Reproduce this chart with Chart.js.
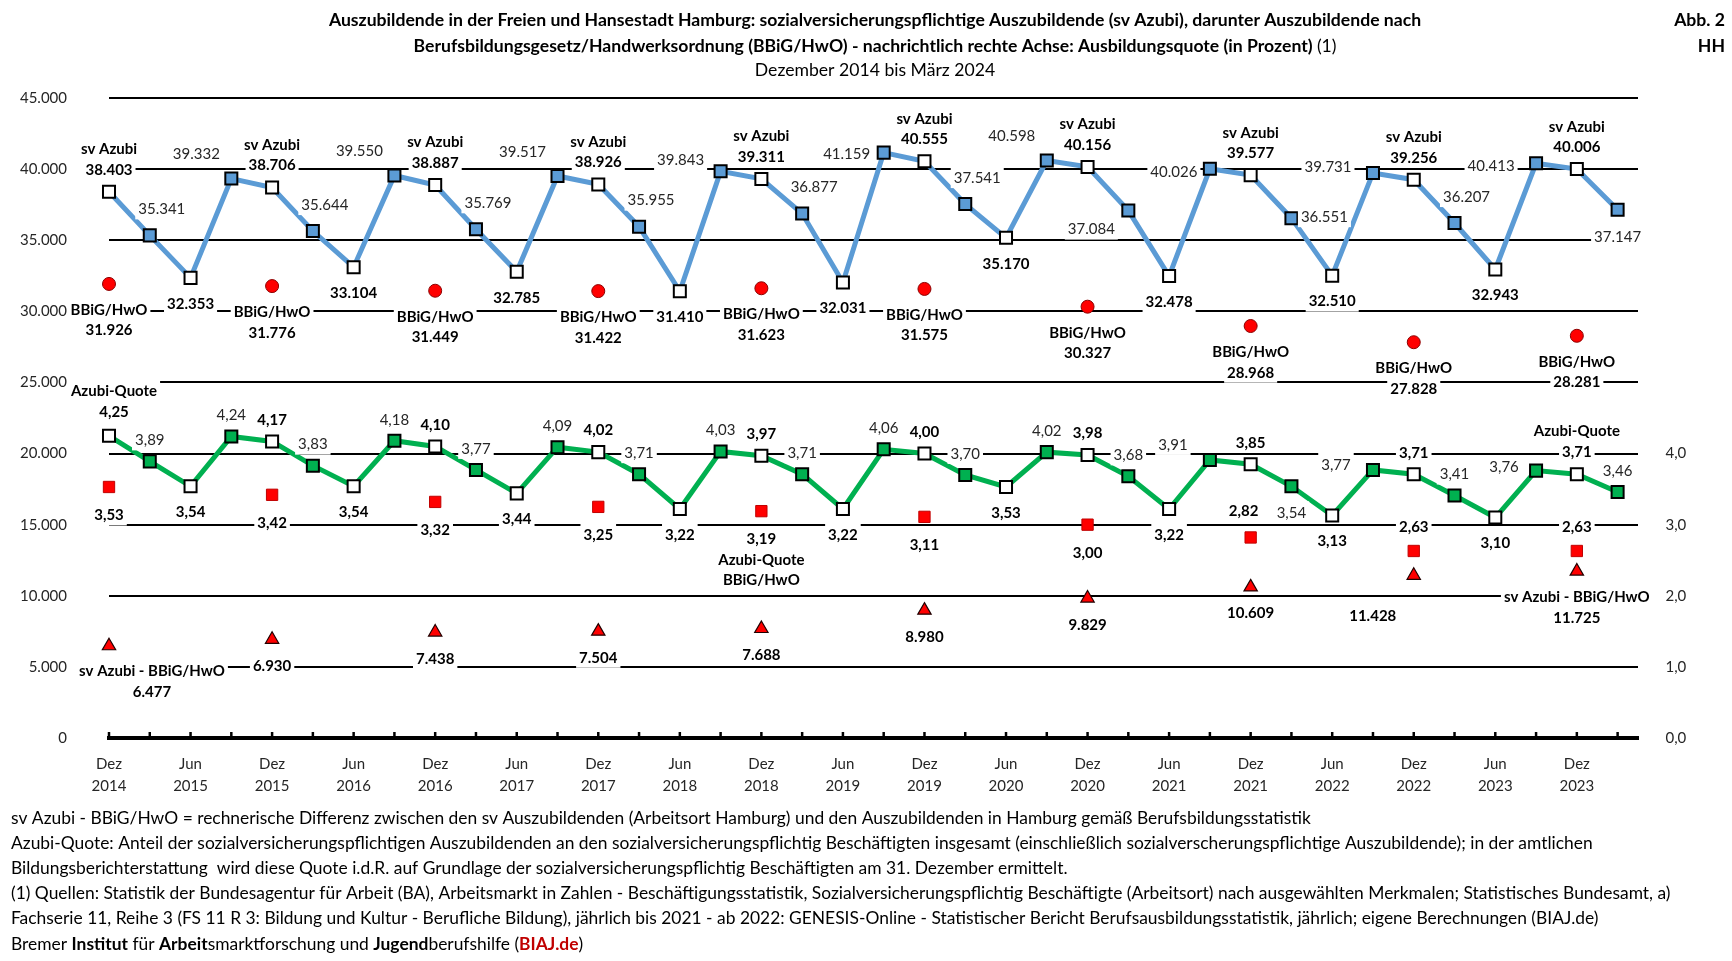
<!DOCTYPE html>
<html lang="de">
<head>
<meta charset="utf-8">
<title>Auszubildende Hamburg</title>
<script src="https://cdn.jsdelivr.net/npm/chart.js"></script>
<style>
html,body{margin:0;padding:0;background:#fff;}
#wrap{width:1732px;height:961px;position:relative;overflow:hidden;}
canvas{display:block;}
</style>
</head>
<body>
<div id="wrap"><canvas id="c" width="1732" height="961"></canvas></div>
<script>
// ---------------- data ----------------
const categories = ['Dez 2014','Mär 2015','Jun 2015','Sep 2015','Dez 2015','Mär 2016','Jun 2016','Sep 2016',
  'Dez 2016','Mär 2017','Jun 2017','Sep 2017','Dez 2017','Mär 2018','Jun 2018','Sep 2018',
  'Dez 2018','Mär 2019','Jun 2019','Sep 2019','Dez 2019','Mär 2020','Jun 2020','Sep 2020',
  'Dez 2020','Mär 2021','Jun 2021','Sep 2021','Dez 2021','Mär 2022','Jun 2022','Sep 2022',
  'Dez 2022','Mär 2023','Jun 2023','Sep 2023','Dez 2023','Mär 2024'];

const svAzubi = [38403,35341,32353,39332,38706,35644,33104,39550,38887,35769,32785,39517,38926,35955,31410,39843,
  39311,36877,32031,41159,40555,37541,35170,40598,40156,37084,32478,40026,39577,36551,32510,39731,
  39256,36207,32943,40413,40006,37147];

const azubiQuote = [4.25,3.89,3.54,4.24,4.17,3.83,3.54,4.18,4.10,3.77,3.44,4.09,4.02,3.71,3.22,4.03,
  3.97,3.71,3.22,4.06,4.00,3.70,3.53,4.02,3.98,3.68,3.22,3.91,3.85,3.54,3.13,3.77,
  3.71,3.41,3.10,3.76,3.71,3.46];

const dezCategories = ['Dez 2014','Dez 2015','Dez 2016','Dez 2017','Dez 2018','Dez 2019','Dez 2020','Dez 2021','Dez 2022','Dez 2023'];
const bbigHwo   = [31926,31776,31449,31422,31623,31575,30327,28968,27828,28281];
const quoteBbig = [3.53,3.42,3.32,3.25,3.19,3.11,3.00,2.82,2.63,2.63];
const differenz = [6477,6930,7438,7504,7688,8980,9829,10609,11428,11725];

const leftTicks  = {min:0, max:45000, step:5000};
const rightTicks = {min:0, max:9, step:1, shownMax:4};

const titleLine1 = 'Auszubildende in der Freien und Hansestadt Hamburg: sozialversicherungspflichtige Auszubildende (sv Azubi), darunter Auszubildende nach';
const titleLine2 = 'Berufsbildungsgesetz/Handwerksordnung (BBiG/HwO) - nachrichtlich rechte Achse: Ausbildungsquote (in Prozent) ';
const titleLine2b = '(1)';
const titleLine3 = 'Dezember 2014 bis März 2024';
const corner1 = 'Abb. 2', corner2 = 'HH';
const notes = [
  'sv Azubi - BBiG/HwO = rechnerische Differenz zwischen den sv Auszubildenden (Arbeitsort Hamburg) und den Auszubildenden in Hamburg gemäß Berufsbildungsstatistik',
  'Azubi-Quote: Anteil der sozialversicherungspflichtigen Auszubildenden an den sozialversicherungspflichtig Beschäftigten insgesamt (einschließlich sozialverscherungspflichtige Auszubildende); in der amtlichen',
  'Bildungsberichterstattung  wird diese Quote i.d.R. auf Grundlage der sozialversicherungspflichtig Beschäftigten am 31. Dezember ermittelt.',
  '(1) Quellen: Statistik der Bundesagentur für Arbeit (BA), Arbeitsmarkt in Zahlen - Beschäftigungsstatistik, Sozialversicherungspflichtig Beschäftigte (Arbeitsort) nach ausgewählten Merkmalen; Statistisches Bundesamt, a)',
  'Fachserie 11, Reihe 3 (FS 11 R 3: Bildung und Kultur - Berufliche Bildung), jährlich bis 2021 - ab 2022: GENESIS-Online - Statistischer Bericht Berufsausbildungsstatistik, jährlich; eigene Berechnungen (BIAJ.de)'
];
const sourceRuns = [['Bremer ',400],['Institut',700],[' für ',400],['Arbeit',700],['smarktforschung und ',400],['Jugend',700],['berufshilfe (',400],['BIAJ.de',700,'#C00000'],[')',400]];

// ---------------- helpers ----------------
const FAM = 'Lato';
const fmtInt = v => String(Math.round(v)).replace(/\B(?=(\d{3})+(?!\d))/g, '.');
const fmtPct = v => v.toFixed(2).replace('.', ',');
const xOf = c => categories.indexOf(c);

const FB = `700 15px ${FAM}`, FN = `400 15px ${FAM}`;
const LH = 20.3;

// label placement rules (styling, relative to the drawn point)
const svOverrides = {15:{dx:-40,dy:-12},19:{dx:-37,dy:1},25:{dx:-37,dy:18},27:{dx:-36,dy:2},
  29:{dx:33,dy:-2},31:{dx:-45,dy:-7},35:{dx:-45,dy:2},37:{dx:0,dy:26}};
function svSpec(i, v){
  const q = i % 4; let s;
  if (q === 0) s = {pre:['sv Azubi'], bold:true, dx:0, dy:-23};
  else if (q === 1) s = {bold:false, dx:12, dy:-27};
  else if (q === 2) s = {bold:true, dx:0, dy:25};
  else s = {bold:false, dx:-35, dy:-25};
  return Object.assign(s, svOverrides[i] || {}, {text: fmtInt(v)});
}
const qOverrides = {0:{pre:['Azubi-Quote'],dx:5,dy:-25},36:{pre:['Azubi-Quote'],dy:-23.5},29:{dy:26},
  27:{dx:-37,dy:-16},31:{dx:-37,dy:-6},35:{dx:-32,dy:-4}};
function quoteSpec(i, v){
  const q = i % 4; let s;
  if (q === 0) s = {bold:true, dx:0, dy:-22.5};
  else if (q === 1) s = {bold:false, dx:0, dy:-22};
  else if (q === 2) s = {bold:true, dx:0, dy:25};
  else s = {bold:false, dx:0, dy:-22};
  return Object.assign(s, qOverrides[i] || {}, {text: fmtPct(v)});
}
function bbigSpec(k, v){ return {pre:['BBiG/HwO'], bold:true, dx:0, dy:45.7, text: fmtInt(v)}; }
function quoteBbigSpec(k, v){
  let s = {bold:true, dx:0, dy:27.5};
  if (k === 4) s.post = ['Azubi-Quote','BBiG/HwO'];
  if (k === 7) s = {bold:true, dx:-7, dy:-27};
  if (k >= 8) s = {bold:true, dx:0, dy:-24.5};
  s.text = fmtPct(v); return s;
}
function diffSpec(k, v){
  let s = {bold:true, dx:0, dy:25.5};
  if (k === 0) s = {bold:true, pre:['sv Azubi - BBiG/HwO'], dx:43, dy:45};
  if (k === 8) s = {bold:true, dx:-41, dy:39.5};
  if (k === 9) s = {bold:true, pre:['sv Azubi - BBiG/HwO'], dx:0, dy:45.5};
  s.text = fmtInt(v); return s;
}
const specFns = [svSpec, quoteSpec, bbigSpec, quoteBbigSpec, diffSpec];

function drawSpec(ctx, px, py, s){
  const x = px + (s.dx || 0), y = py + s.dy;
  const lines = [];
  const pre = s.pre || [];
  pre.forEach((t,k) => lines.push([t, y - LH*(pre.length - k)]));
  lines.push([s.text, y]);
  (s.post || []).forEach((t,k) => lines.push([t, y + LH*(k+1)]));
  ctx.font = s.bold ? FB : FN;
  ctx.fillStyle = '#fff';
  lines.forEach(([t,ly]) => { const w = ctx.measureText(t).width; ctx.fillRect(x - w/2 - 3, ly - 11, w + 6, 22); });
  ctx.fillStyle = s.bold ? '#000' : '#262626';
  ctx.textAlign = 'center'; ctx.textBaseline = 'middle';
  lines.forEach(([t,ly]) => ctx.fillText(t, x, ly + 1));
}

const labelPlugin = {
  id: 'pointLabels',
  afterDatasetsDraw(chart){
    const ctx = chart.ctx; ctx.save();
    chart.data.datasets.forEach((ds, d) => {
      const meta = chart.getDatasetMeta(d);
      meta.data.forEach((el, i) => drawSpec(ctx, el.x, el.y, specFns[d](i, ds.data[i].y)));
    });
    ctx.restore();
  }
};

function fitSize(ctx, text, weight, target){
  ctx.font = `${weight} 100px ${FAM}`;
  return 100 * target / ctx.measureText(text).width;
}
function drawRuns(ctx, runs, x, y, align, size){
  let total = 0;
  const ws = runs.map(r => { ctx.font = `${r[1]} ${size}px ${FAM}`; const w = ctx.measureText(r[0]).width; total += w; return w; });
  let cx = align === 'center' ? x - total/2 : (align === 'right' ? x - total : x);
  ctx.textAlign = 'left'; ctx.textBaseline = 'middle';
  runs.forEach((r,k) => { ctx.font = `${r[1]} ${size}px ${FAM}`; ctx.fillStyle = r[2] || '#000'; ctx.fillText(r[0], cx, y); cx += ws[k]; });
}

const decorPlugin = {
  id: 'decor',
  afterDraw(chart){
    const ctx = chart.ctx; ctx.save();
    // x tick marks (pointing up into the plot)
    const xs = chart.scales.x, yb = chart.chartArea.bottom;
    ctx.strokeStyle = '#000'; ctx.lineWidth = 2.5;
    categories.forEach((c,i) => {
      const px = xs.getPixelForValue(i);
      ctx.beginPath(); ctx.moveTo(px, yb); ctx.lineTo(px, yb - 6); ctx.stroke();
    });
    // title
    const ts = fitSize(ctx, titleLine1, 700, 1093);
    drawRuns(ctx, [[titleLine1,700]], 875, 20.5, 'center', ts);
    drawRuns(ctx, [[titleLine2,700],[titleLine2b,400]], 875, 46, 'center', ts);
    drawRuns(ctx, [[titleLine3,400]], 875, 70, 'center', ts);
    drawRuns(ctx, [[corner1,700]], 1725, 20.5, 'right', ts);
    drawRuns(ctx, [[corner2,700]], 1725, 46, 'right', ts);
    // footnotes
    const fs = fitSize(ctx, notes[3], 400, 1661);
    const ny = [818, 843, 868, 893, 918, 944];
    notes.forEach((t,k) => drawRuns(ctx, [[t,400]], 11, ny[k], 'left', fs));
    drawRuns(ctx, sourceRuns, 11, ny[5], 'left', fs);
    ctx.restore();
  }
};

// ---------------- chart ----------------
function build(){
  Chart.defaults.font.family = FAM;
  Chart.defaults.color = '#262626';
  const dezPts = arr => arr.map((v,k) => ({x: xOf(dezCategories[k]), y: v}));

  new Chart(document.getElementById('c'), {
    type: 'line',
    data: {
      datasets: [
        { label:'sv Azubi', yAxisID:'y', data: svAzubi.map((v,i)=>({x:i,y:v})),
          borderColor:'#5B9BD5', borderWidth:5, tension:0, clip:false,
          pointStyle:'rect', pointRadius:8.5, pointBorderWidth:2, pointBorderColor:'#000',
          pointBackgroundColor: svAzubi.map((v,i)=> i%2===0 ? '#FFFFFF' : '#5B9BD5') },
        { label:'Azubi-Quote', yAxisID:'y2', data: azubiQuote.map((v,i)=>({x:i,y:v})),
          borderColor:'#00B050', borderWidth:5, tension:0, clip:false,
          pointStyle:'rect', pointRadius:8.5, pointBorderWidth:2, pointBorderColor:'#000',
          pointBackgroundColor: azubiQuote.map((v,i)=> i%2===0 ? '#FFFFFF' : '#00B050') },
        { label:'BBiG/HwO', yAxisID:'y', data: dezPts(bbigHwo), showLine:false, clip:false,
          pointStyle:'circle', pointRadius:6.5, pointBorderWidth:1, pointBorderColor:'#8B0000', pointBackgroundColor:'#FF0000' },
        { label:'Azubi-Quote BBiG/HwO', yAxisID:'y2', data: dezPts(quoteBbig), showLine:false, clip:false,
          pointStyle:'rect', pointRadius:8, pointBorderWidth:1, pointBorderColor:'#C00000', pointBackgroundColor:'#FF0000' },
        { label:'sv Azubi - BBiG/HwO', yAxisID:'y', data: dezPts(differenz), showLine:false, clip:false,
          pointStyle:'triangle', pointRadius:7.7, pointBorderWidth:1.2, pointBorderColor:'#200000', pointBackgroundColor:'#FF0000' }
      ]
    },
    options: {
      responsive:false, animation:false, events:[],
      layout:{ padding:{ top:98, left:0, right:0, bottom:0 } },
      plugins:{ legend:{display:false}, tooltip:{enabled:false}, title:{display:false} },
      scales:{
        x:{ type:'linear', min:0, max:categories.length - 0.5,
            grid:{display:false, drawTicks:false},
            border:{display:true, color:'#000', width:4},
            afterFit(s){ s.height = 223; },
            ticks:{ stepSize:1, includeBounds:false, autoSkip:false, maxRotation:0, minRotation:0,
              padding:15, color:'#262626', font:{size:15, lineHeight:1.47},
              callback:(v)=> (Number.isInteger(v) && v % 2 === 0 && categories[v]) ? categories[v].split(' ') : '' } },
        y:{ type:'linear', position:'left', min:leftTicks.min, max:leftTicks.max,
            afterFit(s){ s.width = 109; },
            border:{display:false},
            grid:{ drawTicks:false, color: c => c.tick.value === 0 ? 'rgba(0,0,0,0)' : '#000', lineWidth:2 },
            ticks:{ stepSize:leftTicks.step, padding:42, color:'#262626', font:{size:15},
              callback:(v)=> fmtInt(v) } },
        y2:{ type:'linear', position:'right', min:rightTicks.min, max:rightTicks.max,
            afterFit(s){ s.width = 94; },
            border:{display:false}, grid:{display:false, drawTicks:false},
            ticks:{ stepSize:rightTicks.step, padding:27.5, color:'#262626', font:{size:15},
              callback:(v)=> v <= rightTicks.shownMax ? v.toFixed(1).replace('.', ',') : '' } }
      }
    },
    plugins:[labelPlugin, decorPlugin]
  });
}
Promise.all([document.fonts.load(`400 15px ${FAM}`), document.fonts.load(`700 15px ${FAM}`)])
  .then(build, build);
</script>
</body>
</html>
